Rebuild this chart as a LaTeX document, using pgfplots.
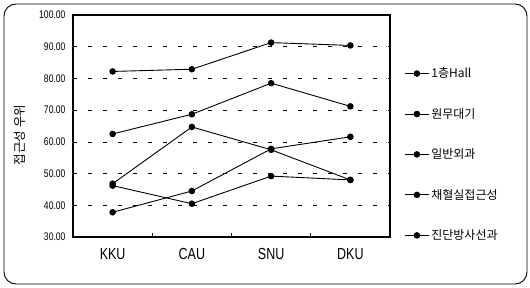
\documentclass[border=0pt]{standalone}
\usepackage{fontspec}
\setmainfont{Liberation Sans}
\newfontfamily\kr{Noto Sans CJK KR}
\newfontfamily\cond{Liberation Sans}[FakeStretch=0.78]
\usepackage{pgfplots}
\pgfplotsset{compat=1.18}
\pgfplotsset{ser/.style={black, solid, line width=0.9pt, mark=*, mark size=2.8pt, mark options={solid, fill=black}}}
\begin{document}
\begin{tikzpicture}
\path (0pt,0pt) rectangle (530pt,287pt);
\draw[line width=0.9pt, rounded corners=12pt] (4pt,3pt) rectangle (527pt,283pt);
\begin{axis}[
  at={(73pt,50pt)}, anchor=south west, scale only axis,
  width=317pt, height=222pt,
  xmin=-0.5, xmax=3.5, ymin=30, ymax=100,
  ytick={30,40,...,100},
  xtick={0,1,2,3}, xticklabels={KKU,CAU,SNU,DKU},
  minor x tick num=1, major tick length=0pt, minor tick length=4pt,
  tick align=inside, xtick pos=bottom, ytick pos=left,
  minor tick style={black, line width=0.6pt},
  axis line style={line width=1.2pt},
  ymajorgrids, grid style={black, line width=0.6pt, dash pattern=on 4pt off 11pt},
  /pgf/number format/assume math mode=true,
  yticklabel style={/pgf/number format/fixed, /pgf/number format/fixed zerofill, /pgf/number format/precision=2, /pgf/number format/1000 sep={}},
  yticklabel style={font=\cond\fontsize{11}{12}\selectfont, xshift=-4pt},
  xticklabel style={font=\cond\fontsize{16}{18}\selectfont, yshift=-8pt},
  ylabel={\kr 접근성 우위},
  ylabel style={at={(axis description cs:-0.167,0.46)}, anchor=center, font=\kr\fontsize{12.5}{14}\selectfont},
  legend style={at={(1.045,0.772)}, anchor=north west, draw=none, fill=none,
    inner sep=0pt, row sep=25pt, font=\kr\fontsize{12}{14}\selectfont},
  legend cell align=left,
  legend image code/.code={\draw[mark repeat=2,mark phase=2] plot coordinates {(0pt,0pt) (12pt,0pt) (24pt,0pt)};},
]
\addplot[ser] coordinates {(0,82.2) (1,82.9) (2,91.3) (3,90.4)};
\addlegendentry{1층Hall}
\addplot[ser] coordinates {(0,62.5) (1,68.7) (2,78.5) (3,71.2)};
\addlegendentry{원무대기}
\addplot[ser] coordinates {(0,46.8) (1,64.7) (2,57.5) (3,48.0)};
\addlegendentry{일반외과}
\addplot[ser] coordinates {(0,37.8) (1,44.5) (2,57.8) (3,61.6)};
\addlegendentry{채혈실접근성}
\addplot[ser] coordinates {(0,46.2) (1,40.5) (2,49.2) (3,48.0)};
\addlegendentry{진단방사선과}
\end{axis}
\end{tikzpicture}
\end{document}
